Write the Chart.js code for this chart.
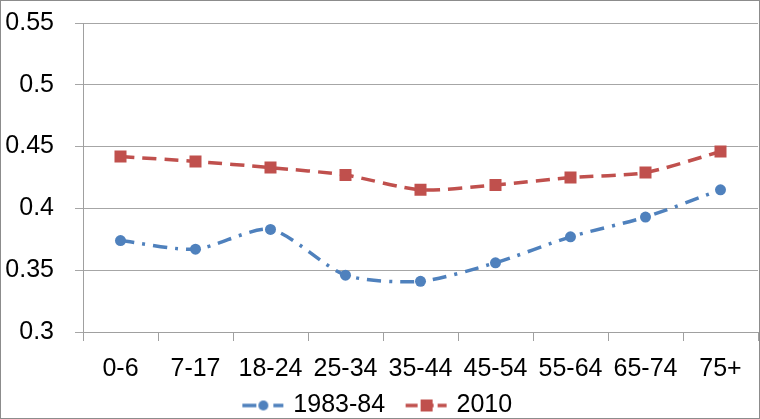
<!DOCTYPE html>
<html>
<head>
<meta charset="utf-8">
<script src="https://cdn.jsdelivr.net/npm/chart.js@4/dist/chart.umd.min.js"></script>
<style>
  html, body { margin: 0; padding: 0; background: #fff; }
  #wrap { width: 760px; height: 419px; }
</style>
</head>
<body>
<div id="wrap"><canvas id="chart" width="760" height="419"></canvas></div>
<script>
const ageGroups = ["0-6", "7-17", "18-24", "25-34", "35-44", "45-54", "55-64", "65-74", "75+"];
const values1983 = [0.374, 0.367, 0.383, 0.346, 0.341, 0.356, 0.377, 0.393, 0.415];
const values2010 = [0.442, 0.438, 0.433, 0.427, 0.415, 0.419, 0.425, 0.429, 0.446];
const yTicks = [0.3, 0.35, 0.4, 0.45, 0.5, 0.55];

const BLUE = "#4F81BD";
const RED = "#C0504D";
const FONT = "'Liberation Sans', Arial, sans-serif";
const FONT_SIZE = 25;

// line+marker pictures for the legend, placed in a wider transparent canvas
function legendIcon(color, dash, marker) {
  const c = document.createElement("canvas");
  c.width = 63; c.height = 14;
  const ctx = c.getContext("2d");
  ctx.strokeStyle = color;
  ctx.fillStyle = color;
  ctx.lineWidth = 3.5;
  ctx.setLineDash(dash);
  ctx.beginPath();
  ctx.moveTo(18, 7); ctx.lineTo(59, 7);
  ctx.stroke();
  if (marker === "circle") {
    ctx.beginPath(); ctx.arc(39, 7, 5, 0, Math.PI * 2); ctx.fill();
  } else {
    ctx.fillRect(33, 1, 12, 12);
  }
  return c;
}

const frame = {
  id: "frame",
  beforeDraw(chart) {
    const ctx = chart.ctx;
    ctx.save();
    ctx.fillStyle = "#fff";
    ctx.fillRect(0, 0, chart.width, chart.height);
    ctx.restore();
  },
  afterDraw(chart) {
    const ctx = chart.ctx;
    ctx.save();
    ctx.strokeStyle = "#8c8c8c";
    ctx.lineWidth = 1;
    ctx.strokeRect(0.5, 0.5, chart.width - 1, chart.height - 1);
    ctx.restore();
  },
  // icons carry blank space on their left, pull the legend back to centre
  afterLayout(chart) {
    if (chart.legend) chart.legend.left -= 20;
  }
};

new Chart(document.getElementById("chart"), {
  type: "line",
  data: {
    labels: ageGroups,
    datasets: [
      {
        label: "1983-84",
        data: values1983,
        borderColor: BLUE,
        backgroundColor: BLUE,
        borderWidth: 3.5,
        borderDash: [14, 8, 3, 8],
        pointStyle: "circle",
        pointRadius: 5.5,
        pointBorderWidth: 0,
        tension: 0.25,
        legendIcon: legendIcon(BLUE, [14, 7, 3, 7], "circle")
      },
      {
        label: "2010",
        data: values2010,
        borderColor: RED,
        backgroundColor: RED,
        borderWidth: 3.5,
        borderDash: [14, 8],
        pointStyle: "rect",
        pointRadius: 8.5,
        pointBorderWidth: 0,
        tension: 0.25,
        legendIcon: legendIcon(RED, [12, 4], "rect")
      }
    ]
  },
  options: {
    responsive: false,
    animation: false,
    layout: { autoPadding: false, padding: { top: 23, right: 2, left: 5, bottom: -9 } },
    plugins: {
      tooltip: { enabled: false },
      legend: {
        position: "bottom",
        labels: {
          usePointStyle: true,
          pointStyleWidth: 50,
          padding: 9,
          color: "#000",
          font: { family: FONT, size: FONT_SIZE },
          generateLabels(chart) {
            return chart.data.datasets.map((ds, i) => ({
              text: ds.label,
              pointStyle: ds.legendIcon,
              fillStyle: ds.borderColor,
              strokeStyle: ds.borderColor,
              lineWidth: 0,
              hidden: false,
              datasetIndex: i,
              fontColor: "#000"
            }));
          }
        }
      }
    },
    scales: {
      x: {
        offset: true,
        afterFit(axis) {
          axis.height = 52;
          axis.paddingLeft = 0;
          axis.paddingRight = 0;
        },
        grid: {
          offset: true,
          drawOnChartArea: false,
          drawTicks: true,
          tickLength: 9,
          color: "#a0a0a0"
        },
        border: { color: "#a0a0a0", width: 1 },
        ticks: {
          color: "#000",
          padding: 16,
          maxRotation: 0,
          autoSkip: false,
          font: { family: FONT, size: FONT_SIZE, lineHeight: 1 }
        }
      },
      y: {
        min: 0.3,
        max: 0.55,
        afterBuildTicks(axis) {
          axis.ticks = yTicks.map(v => ({ value: v }));
        },
        afterFit(axis) {
          axis.width = 78;
          axis.paddingTop = 0;
          axis.paddingBottom = 0;
        },
        grid: {
          color: "#a6a6a6",
          tickLength: 8,
          lineWidth: 1
        },
        border: { color: "#a0a0a0", width: 1 },
        ticks: {
          color: "#000",
          padding: 21,
          font: { family: FONT, size: FONT_SIZE, lineHeight: 1 },
          callback: v => String(parseFloat(v.toFixed(2)))
        }
      }
    }
  },
  plugins: [frame]
});
</script>
</body>
</html>
